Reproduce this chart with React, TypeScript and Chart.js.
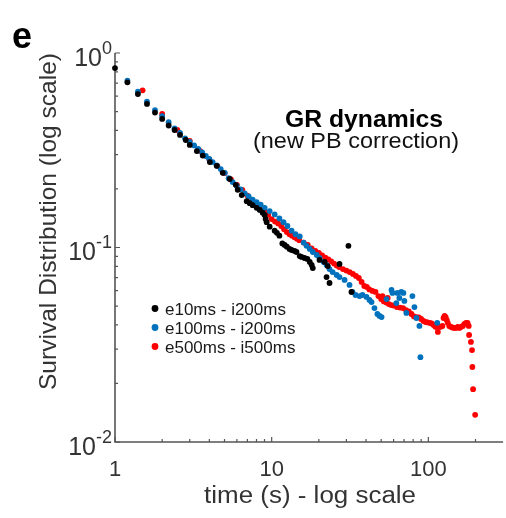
import React, { useEffect, useRef } from "react";
import { Chart, registerables } from "chart.js";

Chart.register(...registerables);

// ---------------- data ----------------
const blackT = [1.0, 1.2, 1.4, 1.6, 1.8, 2.0, 2.2, 2.4, 2.6, 2.83, 3.0, 3.33, 3.63, 4.03, 4.46, 4.87, 5.4, 5.9, 6.07, 6.44, 6.93, 7.24, 7.56, 8.02, 8.39, 8.76, 9.02, 9.15, 9.29, 9.71, 10.45, 10.8, 11.2, 11.7, 12.1, 12.5, 13.0, 13.4, 14.0, 14.4, 15.1, 15.5, 16.2, 16.9, 17.5, 18.0, 18.3, 20.2, 21.8, 22.4, 22.8, 23.4, 27.1, 30.9, 32.3];
const blackS = [0.837, 0.707, 0.615, 0.547, 0.494, 0.458, 0.424, 0.402, 0.379, 0.357, 0.337, 0.313, 0.297, 0.275, 0.263, 0.242, 0.225, 0.21, 0.198, 0.186, 0.173, 0.169, 0.165, 0.16, 0.156, 0.151, 0.147, 0.14, 0.135, 0.128, 0.122, 0.119, 0.115, 0.105, 0.103, 0.101, 0.0983, 0.0971, 0.096, 0.0948, 0.0904, 0.0894, 0.0883, 0.0873, 0.0843, 0.0813, 0.0784, 0.0863, 0.0843, 0.0705, 0.0803, 0.0657, 0.0823, 0.102, 0.0591];

const blueT = [1.2, 1.4, 1.6, 1.8, 2.0, 2.2, 2.4, 2.6, 2.8, 3.0, 3.2, 3.4, 3.6, 3.8, 4.0, 4.2, 4.46, 4.73, 5.02, 5.32, 5.64, 5.98, 6.34, 6.73, 7.13, 7.56, 8.02, 8.51, 9.02, 9.71, 10.45, 11.2, 11.9, 12.6, 13.4, 14.2, 15.1, 16.0, 16.7, 17.5, 18.3, 19.4, 20.2, 21.5, 22.4, 23.4, 24.5, 26.0, 27.1, 29.2, 31.4, 32.8, 34.3, 36.4, 38.0, 40.3, 42.1, 43.4, 45.3, 47.3, 48.8, 50.3, 54.1, 58.2, 59.0, 62.5, 63.4, 65.3, 67.2, 69.3, 70.3, 72.4, 79.1, 81.5, 83.9, 87.7, 89.0, 114];
const blueS = [0.721, 0.632, 0.562, 0.509, 0.474, 0.441, 0.41, 0.388, 0.364, 0.349, 0.335, 0.321, 0.308, 0.2955, 0.2853, 0.275, 0.264, 0.253, 0.242, 0.227, 0.217, 0.208, 0.199, 0.19, 0.183, 0.176, 0.171, 0.166, 0.16, 0.154, 0.148, 0.141, 0.135, 0.129, 0.122, 0.117, 0.114, 0.106, 0.102, 0.0983, 0.0948, 0.0915, 0.0883, 0.0843, 0.0813, 0.0775, 0.0748, 0.0722, 0.0705, 0.0681, 0.0642, 0.0591, 0.057, 0.0563, 0.057, 0.0557, 0.0537, 0.0524, 0.0488, 0.0455, 0.0445, 0.0439, 0.0543, 0.0605, 0.0584, 0.0518, 0.0584, 0.055, 0.0591, 0.0584, 0.0531, 0.0461, 0.0563, 0.0494, 0.0434, 0.0395, 0.0273, 0.041];

const redT = [1.5, 2.0, 2.5, 3.0, 3.5, 4.0, 4.5, 5.0, 5.5, 6.0, 6.5, 7.0, 7.5, 8.0, 8.5, 9.0, 9.5, 10, 10.5, 11, 11.5, 12, 12.5, 13, 13.5, 14, 14.5, 15, 16, 17, 18, 19, 20, 21, 22, 23, 24, 25, 26, 27, 28.5, 30, 31.5, 33, 34.5, 36, 37.5, 39, 40.5, 42, 44, 46, 48, 50, 51, 52, 54, 55, 56, 58, 60, 63, 66, 69, 72, 75, 78, 81, 84, 87, 90, 93, 96, 99, 102, 105, 108, 111, 113, 115, 117, 120, 123, 125, 127, 129, 131, 133, 136, 139, 142, 146, 150, 154, 158, 162, 166, 170, 174, 178, 181, 182, 187, 190, 191, 193, 199];
const redS = [0.643, 0.486, 0.402, 0.353, 0.313, 0.284, 0.263, 0.241, 0.224, 0.21, 0.198, 0.185, 0.175, 0.168, 0.161, 0.155, 0.147, 0.14, 0.136, 0.133, 0.129, 0.124, 0.12, 0.117, 0.115, 0.113, 0.111, 0.109, 0.106, 0.103, 0.0988, 0.096, 0.0937, 0.091, 0.0888, 0.0868, 0.0848, 0.0827, 0.0808, 0.0794, 0.0775, 0.0761, 0.0748, 0.0731, 0.0714, 0.0697, 0.0665, 0.0634, 0.0627, 0.0609, 0.0598, 0.0591, 0.0563, 0.0543, 0.0563, 0.0528, 0.0521, 0.055, 0.0512, 0.0506, 0.0503, 0.0494, 0.0491, 0.0488, 0.0477, 0.0469, 0.0455, 0.0442, 0.0439, 0.0437, 0.0429, 0.0419, 0.0414, 0.0412, 0.041, 0.0407, 0.04, 0.0391, 0.0391, 0.0368, 0.0391, 0.0391, 0.0395, 0.0434, 0.0445, 0.0439, 0.0424, 0.041, 0.0395, 0.0391, 0.0388, 0.0386, 0.0386, 0.0391, 0.0386, 0.0391, 0.0395, 0.0405, 0.041, 0.041, 0.0395, 0.0355, 0.0327, 0.0297, 0.0243, 0.0187, 0.0138];

const seriesLabels = ["e10ms - i200ms", "e100ms - i200ms", "e500ms - i500ms"];
const seriesColors = ["#000000", "#0072BD", "#FF0000"];

const xMin = 1;
const xMax = 300;
const yMin = 0.01;
const yMax = 1;
const xMajorTicks = [1, 10, 100];
const xTickLabels = ["1", "10", "100"];
const xMinorTicks = [2, 3, 4, 5, 6, 7, 8, 9, 20, 30, 40, 50, 60, 70, 80, 90, 200];
const yMajorTicks = [1, 0.1, 0.01];
const yTickExponents = ["0", "-1", "-2"];
const yMinorTicks = [0.02, 0.03, 0.04, 0.05, 0.06, 0.07, 0.08, 0.09, 0.2, 0.3, 0.4, 0.5, 0.6, 0.7, 0.8, 0.9];

const panelLabel = "e";
const titleText = "GR dynamics";
const subtitleText = "(new PB correction)";
const xTitle = "time (s) - log scale";
const yTitle = "Survival Distribution (log scale)";

const FONT = '"Liberation Sans", Arial, Helvetica, sans-serif';
const AXIS_COLOR = "#555555";
const TEXT_COLOR = "#333333";

function drawText(
  ctx: CanvasRenderingContext2D,
  text: string,
  x: number,
  y: number,
  font: string,
  color: string,
  align: "left" | "center" | "right",
  targetWidth?: number
) {
  ctx.save();
  ctx.font = font;
  ctx.fillStyle = color;
  ctx.textBaseline = "alphabetic";
  ctx.textAlign = "left";
  const w = ctx.measureText(text).width;
  const sx = targetWidth ? targetWidth / w : 1;
  const x0 = align === "left" ? x : align === "center" ? x - (w * sx) / 2 : x - w * sx;
  ctx.translate(x0, y);
  ctx.scale(sx, 1);
  ctx.fillText(text, 0, 0);
  ctx.restore();
}

const axesPlugin = {
  id: "matlabAxes",
  beforeDatasetsDraw(chart: any) {
    const { ctx } = chart;
    const xs = chart.scales.x;
    const ys = chart.scales.y;
    const left = xs.getPixelForValue(xMin);
    const right = xs.getPixelForValue(xMax);
    const top = ys.getPixelForValue(yMax);
    const bottom = ys.getPixelForValue(yMin);
    ctx.save();
    ctx.strokeStyle = AXIS_COLOR;
    ctx.lineWidth = 1.6;
    ctx.beginPath();
    ctx.moveTo(left, top);
    ctx.lineTo(left, bottom);
    ctx.lineTo(right, bottom);
    ctx.stroke();
    ctx.lineWidth = 1.2;
    ctx.beginPath();
    for (const v of xMajorTicks) {
      const p = xs.getPixelForValue(v);
      ctx.moveTo(p, bottom);
      ctx.lineTo(p, bottom - 5);
    }
    for (const v of xMinorTicks) {
      const p = xs.getPixelForValue(v);
      ctx.moveTo(p, bottom);
      ctx.lineTo(p, bottom - 3);
    }
    for (const v of yMajorTicks) {
      const p = ys.getPixelForValue(v);
      ctx.moveTo(left, p);
      ctx.lineTo(left + 5, p);
    }
    for (const v of yMinorTicks) {
      const p = ys.getPixelForValue(v);
      ctx.moveTo(left, p);
      ctx.lineTo(left + 3, p);
    }
    ctx.stroke();
    ctx.restore();
  },
  afterDraw(chart: any) {
    const { ctx } = chart;
    const xs = chart.scales.x;
    const ys = chart.scales.y;
    const left = xs.getPixelForValue(xMin);
    const right = xs.getPixelForValue(xMax);
    const bottom = ys.getPixelForValue(yMin);
    const top = ys.getPixelForValue(yMax);

    // x tick labels
    xMajorTicks.forEach((v, i) => {
      drawText(ctx, xTickLabels[i], xs.getPixelForValue(v), bottom + 34, `22px ${FONT}`, TEXT_COLOR, "center");
    });
    // y tick labels 10^n
    yMajorTicks.forEach((v, i) => {
      const p = ys.getPixelForValue(v);
      ctx.save();
      ctx.font = `25px ${FONT}`;
      const w1 = ctx.measureText("10").width;
      ctx.font = `18px ${FONT}`;
      const w2 = ctx.measureText(yTickExponents[i]).width;
      ctx.restore();
      const x0 = left - 3 - (w1 + w2);
      drawText(ctx, "10", x0, p + 12.5, `25px ${FONT}`, TEXT_COLOR, "left");
      drawText(ctx, yTickExponents[i], x0 + w1, p + 0.5, `18px ${FONT}`, TEXT_COLOR, "left");
    });

    // axis titles
    drawText(ctx, xTitle, (left + right) / 2 + 1, bottom + 61, `23px ${FONT}`, TEXT_COLOR, "center", 212);
    ctx.save();
    ctx.translate(left - 59, (top + bottom) / 2 - 26);
    ctx.rotate(-Math.PI / 2);
    drawText(ctx, yTitle, 0, 0, `24.5px ${FONT}`, TEXT_COLOR, "center", 337);
    ctx.restore();

    // panel label
    drawText(ctx, panelLabel, 12, 48, `bold 36px ${FONT}`, "#000000", "left");

    // titles in plot
    drawText(ctx, titleText, 364, 127, `bold 23px ${FONT}`, "#000000", "center", 158);
    drawText(ctx, subtitleText, 356, 148, `22px ${FONT}`, "#111111", "center", 206);

    // legend
    const legendX = 155;
    const legendY = [308.5, 327.5, 346.5];
    seriesLabels.forEach((lab, i) => {
      ctx.save();
      ctx.fillStyle = seriesColors[i];
      ctx.beginPath();
      ctx.arc(legendX, legendY[i], 3.4, 0, Math.PI * 2);
      ctx.fill();
      ctx.restore();
      drawText(ctx, lab, legendX + 10, legendY[i] + 6.5, `17px ${FONT}`, "#1a1a1a", "left");
    });
  },
};

function makeData(ts: number[], ss: number[]) {
  return ts.map((t, i) => ({ x: t, y: ss[i] }));
}

export default function App() {
  const canvasRef = useRef<HTMLCanvasElement | null>(null);

  useEffect(() => {
    const canvas = canvasRef.current;
    if (!canvas) return;
    const series = [
      makeData(blackT, blackS),
      makeData(blueT, blueS),
      makeData(redT, redS),
    ];
    const chart = new Chart(canvas, {
      type: "scatter",
      data: {
        datasets: series.map((d, i) => ({
          label: seriesLabels[i],
          data: d,
          backgroundColor: seriesColors[i],
          borderColor: seriesColors[i],
          borderWidth: 0,
          pointRadius: 2.9,
          pointHoverRadius: 2.9,
          clip: false as any,
        })),
      },
      options: {
        animation: false,
        responsive: false,
        devicePixelRatio: 1,
        layout: { padding: { left: 115, top: 53, right: 2, bottom: 76 } },
        scales: {
          x: { type: "logarithmic", min: xMin, max: xMax, display: false },
          y: { type: "logarithmic", min: yMin, max: yMax, display: false },
        },
        plugins: {
          legend: { display: false },
          tooltip: { enabled: false },
        },
        events: [],
      },
      plugins: [axesPlugin],
    });
    return () => chart.destroy();
  }, []);

  return (
    <div style={{ position: "absolute", left: 0, top: 0, width: 506, height: 518, background: "#ffffff" }}>
      <canvas ref={canvasRef} width={506} height={518} style={{ display: "block" }} />
    </div>
  );
}
